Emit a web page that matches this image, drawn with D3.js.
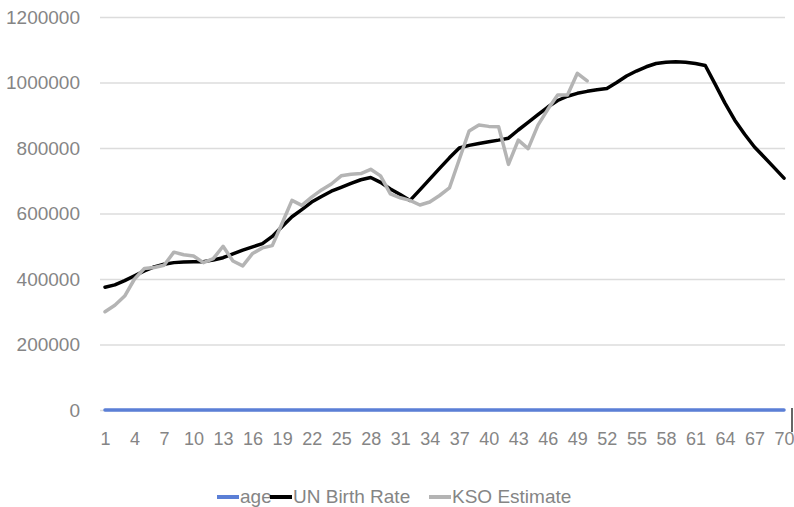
<!DOCTYPE html>
<html>
<head>
<meta charset="utf-8">
<script src="https://cdn.jsdelivr.net/npm/d3@7"></script>
<style>
  html, body { margin: 0; padding: 0; background: #fff; }
  svg { display: block; }
  text { font-family: "Liberation Sans", Arial, sans-serif; fill: #858585; }
</style>
</head>
<body>
<svg id="chart" width="794" height="507"></svg>
<script>
// Index (1..70) used as the category axis
const categories = [1,2,3,4,5,6,7,8,9,10,11,12,13,14,15,16,17,18,19,20,
  21,22,23,24,25,26,27,28,29,30,31,32,33,34,35,36,37,38,39,40,
  41,42,43,44,45,46,47,48,49,50,51,52,53,54,55,56,57,58,59,60,
  61,62,63,64,65,66,67,68,69,70];

// "age" series: the age value itself
const age = [1,2,3,4,5,6,7,8,9,10,11,12,13,14,15,16,17,18,19,20,
  21,22,23,24,25,26,27,28,29,30,31,32,33,34,35,36,37,38,39,40,
  41,42,43,44,45,46,47,48,49,50,51,52,53,54,55,56,57,58,59,60,
  61,62,63,64,65,66,67,68,69,70];

// Population by age, UN birth-rate based
const unBirthRate = [375000,382000,395000,410000,425000,437000,445000,450000,452000,453000,
  453000,458000,465000,477000,488000,498000,508000,530000,560000,590000,
  612000,635000,652000,668000,680000,692000,703000,710000,695000,675000,
  658000,640000,672000,705000,738000,770000,800000,808000,814000,819000,
  824000,830000,855000,878000,902000,925000,945000,958000,967000,973000,
  978000,982000,1000000,1020000,1035000,1048000,1058000,1062000,1063000,1062000,
  1058000,1052000,995000,937000,885000,842000,803000,772000,740000,708000];

// Population by age, KSO estimate (ages 1..50)
const ksoEstimate = [300000,320000,348000,400000,432000,435000,442000,482000,474000,470000,
  450000,462000,500000,455000,440000,478000,495000,502000,570000,640000,
  625000,650000,672000,690000,715000,720000,722000,735000,715000,660000,
  648000,640000,626000,635000,655000,678000,765000,852000,870000,866000,
  865000,750000,824000,798000,870000,918000,962000,962000,1028000,1005000];

const yTicks = [0,200000,400000,600000,800000,1000000,1200000];
const xTickLabels = categories.filter((d, i) => i % 3 === 0);

const svg = d3.select("#chart");
const plot = { left: 100, right: 785, top: 17, bottom: 410 };

const x = d3.scalePoint().domain(categories).range([105, 784]);
const y = d3.scaleLinear().domain([0, 1200000]).range([plot.bottom, plot.top]);

// Horizontal gridlines with value labels
const yAxis = d3.axisLeft(y)
  .tickValues(yTicks)
  .tickSize(-(plot.right - plot.left))
  .tickPadding(20)
  .tickFormat(d3.format("d"));
const gy = svg.append("g")
  .attr("transform", `translate(${plot.left},0)`)
  .call(yAxis);
gy.select(".domain").remove();
gy.selectAll(".tick line").attr("stroke", "#dcdcdc").attr("stroke-width", 1.3);
gy.selectAll(".tick text").attr("font-size", 19).attr("fill", "#858585");

// Category labels every third value
const xAxis = d3.axisBottom(x)
  .tickValues(xTickLabels)
  .tickSize(0)
  .tickPadding(22);
const gx = svg.append("g")
  .attr("transform", `translate(0,${plot.bottom})`)
  .call(xAxis);
gx.select(".domain").remove();
gx.selectAll(".tick text").attr("font-size", 18).attr("fill", "#858585");

// Series lines
const series = [
  { name: "age", values: age, color: "#5b7fd6" },
  { name: "UN Birth Rate", values: unBirthRate, color: "#000000" },
  { name: "KSO Estimate", values: ksoEstimate, color: "#b4b4b4" }
];

const line = d3.line()
  .x((d, i) => x(categories[i]))
  .y(d => y(d));

svg.append("g").selectAll("path")
  .data(series)
  .join("path")
  .attr("fill", "none")
  .attr("stroke", d => d.color)
  .attr("stroke-width", 3.5)
  .attr("stroke-linejoin", "round")
  .attr("stroke-linecap", "round")
  .attr("d", d => line(d.values));

// Small frame mark at the right end of the baseline
svg.append("line")
  .attr("x1", 792).attr("x2", 792)
  .attr("y1", 408).attr("y2", 432)
  .attr("stroke", "#333").attr("stroke-width", 1.5);

// Legend
const legendItems = [
  { name: "age", color: "#5b7fd6", x: 217 },
  { name: "UN Birth Rate", color: "#000000", x: 270 },
  { name: "KSO Estimate", color: "#b4b4b4", x: 429 }
];
const lg = svg.append("g");
legendItems.forEach(it => {
  lg.append("line")
    .attr("x1", it.x).attr("x2", it.x + 22)
    .attr("y1", 497).attr("y2", 497)
    .attr("stroke", it.color).attr("stroke-width", 4);
  lg.append("text")
    .attr("x", it.x + 23).attr("y", 503)
    .attr("font-size", 19)
    .text(it.name);
});
</script>
</body>
</html>
